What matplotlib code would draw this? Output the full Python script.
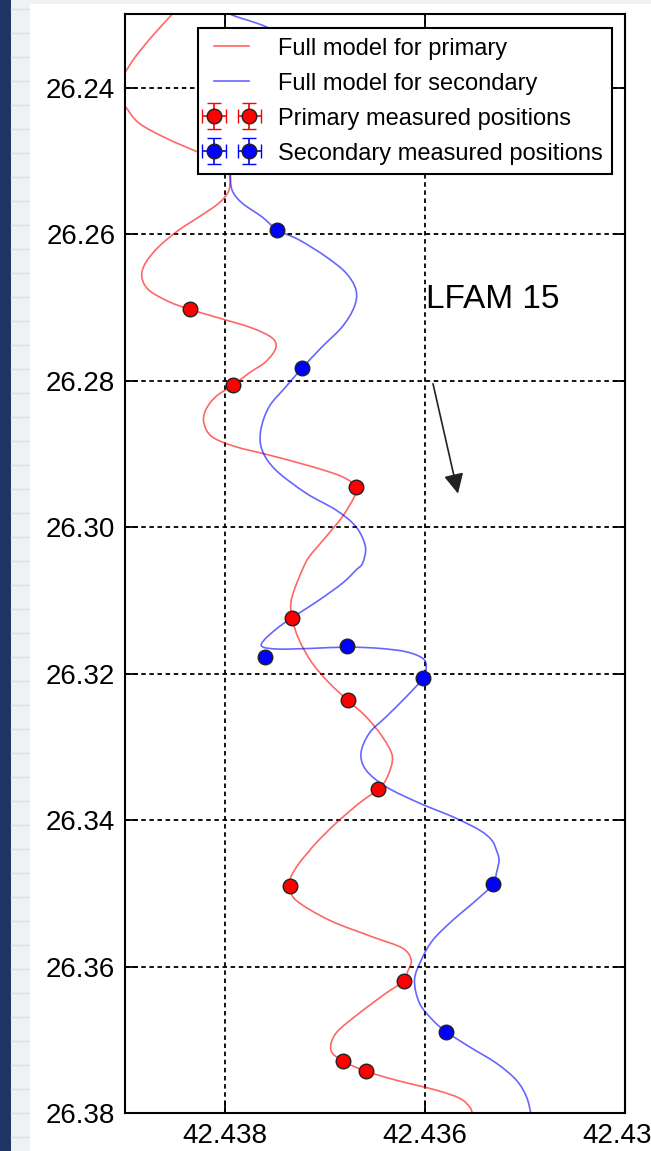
import numpy as np
import matplotlib
matplotlib.use("Agg")
import matplotlib.pyplot as plt
from matplotlib.patches import Rectangle, PathPatch
from matplotlib.lines import Line2D
from matplotlib.path import Path
from matplotlib.container import ErrorbarContainer
from matplotlib.legend_handler import HandlerErrorbar

plt.rcParams["font.family"] = ["Liberation Sans", "DejaVu Sans"]

# Full model tracks (RA, Dec in degrees)
model_primary_ra = [
    42.438461, 42.438544, 42.438732, 42.438895, 42.438995, 42.439063, 42.439093,
    42.439063, 42.438995, 42.438862, 42.438594, 42.438281, 42.438040, 42.437960,
    42.437960, 42.438060, 42.438261, 42.438461, 42.438662, 42.438795, 42.438832,
    42.438762, 42.438561, 42.438354, 42.438060, 42.437729, 42.437529, 42.437492,
    42.437592, 42.437759, 42.437917, 42.438093, 42.438193, 42.438211, 42.438130,
    42.437893, 42.437559, 42.437128, 42.436827, 42.436690, 42.436707, 42.436827,
    42.436990, 42.437158, 42.437228, 42.437308, 42.437341, 42.437331, 42.437258,
    42.437128, 42.436957, 42.436774, 42.436589, 42.436426, 42.436326, 42.436376,
    42.436466, 42.436657, 42.436890, 42.437091, 42.437158, 42.437258, 42.437341,
    42.437348, 42.437291, 42.436957, 42.436526, 42.436226, 42.436138, 42.436175,
    42.436213, 42.436389, 42.436657, 42.436890, 42.436940, 42.436824, 42.436589,
    42.436289, 42.435888, 42.435654, 42.435554, 42.435527, 42.435514,
]
model_primary_dec = [
    26.22880, 26.23016, 26.23299, 26.23572, 26.23777, 26.23891, 26.24014,
    26.24137, 26.24255, 26.24478, 26.24683, 26.24870, 26.25011, 26.25161,
    26.25393, 26.25571, 26.25762, 26.25940, 26.26168, 26.26391, 26.26578,
    26.26760, 26.26919, 26.27023, 26.27142, 26.27279, 26.27415, 26.27552,
    26.27739, 26.27893, 26.28057, 26.28217, 26.28399, 26.28576, 26.28764,
    26.28900, 26.29014, 26.29173, 26.29310, 26.29447, 26.29583, 26.29857,
    26.30130, 26.30403, 26.30585, 26.30858, 26.31035, 26.31244, 26.31541,
    26.31855, 26.32128, 26.32361, 26.32589, 26.32862, 26.33135, 26.33408,
    26.33576, 26.33768, 26.34041, 26.34314, 26.34423, 26.34587, 26.34774,
    26.34901, 26.35093, 26.35366, 26.35594, 26.35748, 26.35912, 26.36072,
    26.36199, 26.36363, 26.36636, 26.36910, 26.37142, 26.37288, 26.37429,
    26.37552, 26.37688, 26.37798, 26.37917, 26.38003, 26.38098,
]

model_secondary_ra = [
    42.438010, 42.437930, 42.437592, 42.437258, 42.437058, 42.437258, 42.437709,
    42.437910, 42.437943, 42.437930, 42.437830, 42.437629, 42.437476, 42.437258,
    42.436990, 42.436790, 42.436690, 42.436707, 42.436827, 42.437028, 42.437231,
    42.437391, 42.437559, 42.437642, 42.437629, 42.437492, 42.437191, 42.436890,
    42.436690, 42.436596, 42.436624, 42.436690, 42.436824, 42.437058, 42.437258,
    42.437459, 42.437609, 42.437626, 42.437459, 42.437128, 42.436780, 42.436456,
    42.436188, 42.436022, 42.435988, 42.436022, 42.436188, 42.436389, 42.436556,
    42.436640, 42.436589, 42.436389, 42.436055, 42.435721, 42.435454, 42.435333,
    42.435286, 42.435260, 42.435286, 42.435320, 42.435487, 42.435721, 42.435922,
    42.436038, 42.436105, 42.436055, 42.435922, 42.435787, 42.435554, 42.435286,
    42.435086, 42.434985, 42.434942, 42.434932,
]
model_secondary_dec = [
    26.22907, 26.23003, 26.23163, 26.23413, 26.23891, 26.24437, 26.24847,
    26.25025, 26.25161, 26.25393, 26.25571, 26.25762, 26.25940, 26.26076,
    26.26305, 26.26527, 26.26760, 26.26988, 26.27261, 26.27534, 26.27829,
    26.28081, 26.28354, 26.28672, 26.28945, 26.29219, 26.29533, 26.29765,
    26.29993, 26.30266, 26.30489, 26.30585, 26.30762, 26.30994, 26.31172,
    26.31359, 26.31541, 26.31632, 26.31664, 26.31654, 26.31637, 26.31654,
    26.31701, 26.31791, 26.31906, 26.32064, 26.32316, 26.32589, 26.32811,
    26.33085, 26.33317, 26.33545, 26.33768, 26.33955, 26.34137, 26.34273,
    26.34410, 26.34546, 26.34724, 26.34878, 26.35093, 26.35366, 26.35639,
    26.35912, 26.36186, 26.36500, 26.36732, 26.36892, 26.37097, 26.37320,
    26.37552, 26.37780, 26.38003, 26.38098,
]

# Measured positions
primary_ra = [42.438354, 42.437917, 42.436690, 42.437331, 42.436774,
              42.436466, 42.437348, 42.436213, 42.436824, 42.436589]
primary_dec = [26.27023, 26.28057, 26.29447, 26.31244, 26.32361,
               26.33576, 26.34901, 26.36199, 26.37288, 26.37429]
secondary_ra = [42.437476, 42.437231, 42.437599, 42.436780,
                42.436022, 42.435320, 42.435787]
secondary_dec = [26.25940, 26.27829, 26.31777, 26.31623,
                 26.32064, 26.34878, 26.36892]
ra_err = 2e-6
dec_err = 2e-5

x_ticks = [42.438, 42.436, 42.434]
y_ticks = [26.24, 26.26, 26.28, 26.30, 26.32, 26.34, 26.36, 26.38]


def smooth_path(xs, ys):
    """Bezier path through the read points (Catmull-Rom tangents)."""
    p = np.column_stack([xs, ys])
    p_ext = np.vstack([p[0], p, p[-1]])
    verts = [p[0]]
    codes = [Path.MOVETO]
    for i in range(len(p) - 1):
        p0, p1, p2, p3 = p_ext[i], p_ext[i + 1], p_ext[i + 2], p_ext[i + 3]
        verts += [p1 + (p2 - p0) / 6, p2 - (p3 - p1) / 6, p2]
        codes += [Path.CURVE4] * 3
    return Path(verts, codes)


fig = plt.figure(figsize=(6.51, 11.51), dpi=100, facecolor="#eef2f5")
# screenshot surroundings: desktop strip and page
fig.add_artist(Rectangle((0, 0), 11 / 651, 1, transform=fig.transFigure,
                         facecolor="#1f3563", edgecolor="none", zorder=-3))
for yy in np.arange(0.012, 1.0, 24 / 1151):
    fig.add_artist(Line2D([11 / 651, 30 / 651], [yy, yy], transform=fig.transFigure,
                          color="#cfe3ef", lw=1, zorder=-2))
fig.add_artist(Rectangle((30 / 651, 0), 1, 1 - 4 / 1151, transform=fig.transFigure,
                         facecolor="white", edgecolor="none", zorder=-1))

ax = fig.add_axes([125 / 651, 1 - 1113 / 1151, 500 / 651, 1099 / 1151])
ax.set_axisbelow(True)

ax.add_patch(PathPatch(smooth_path(model_primary_ra, model_primary_dec),
                       facecolor="none", edgecolor="r", alpha=0.6, lw=1.2, zorder=2))
ax.add_patch(PathPatch(smooth_path(model_secondary_ra, model_secondary_dec),
                       facecolor="none", edgecolor="b", alpha=0.6, lw=1.2, zorder=2))
l1 = Line2D([], [], color="r", alpha=0.6, lw=1.2, label="Full model for primary")
l2 = Line2D([], [], color="b", alpha=0.6, lw=1.2, label="Full model for secondary")

e1 = ax.errorbar(primary_ra, primary_dec, xerr=ra_err, yerr=dec_err, fmt="o",
                 color="r", mec="#222222", mew=1, ms=10.5, capsize=5, elinewidth=1.2,
                 zorder=5, label="Primary measured positions")
e2 = ax.errorbar(secondary_ra, secondary_dec, xerr=ra_err, yerr=dec_err, fmt="o",
                 color="b", mec="#222222", mew=1, ms=10.5, capsize=5, elinewidth=1.2,
                 zorder=5, label="Secondary measured positions")

ax.text(42.43599, 26.2701, "LFAM 15", fontsize=24, ha="left", va="baseline")
ax.annotate("", xy=(42.43567, 26.2954), xytext=(42.43592, 26.2804),
            arrowprops=dict(arrowstyle="-|>", color="#222222", lw=1.2,
                            mutation_scale=30, shrinkA=0, shrinkB=0))

ax.set_xlim(42.439, 42.434)
ax.set_ylim(26.38, 26.2299)
ax.set_xticks(x_ticks)
ax.set_yticks(y_ticks)
ax.xaxis.set_major_formatter(matplotlib.ticker.FormatStrFormatter("%.3f"))
ax.yaxis.set_major_formatter(matplotlib.ticker.FormatStrFormatter("%.2f"))
ax.tick_params(direction="in", length=9, width=1.3, top=True, right=True,
               labelsize=20, pad=7)
for sp in ax.spines.values():
    sp.set_linewidth(1.5)
ax.grid(True, color="k", linestyle=(0, (2.5, 2)), linewidth=1.3)

leg = ax.legend(handles=[l1, l2, e1, e2], loc="upper right",
                bbox_to_anchor=(0.974, 0.987), borderaxespad=0, numpoints=2,
                fontsize=17, fancybox=False, framealpha=1, borderpad=0.4,
                handlelength=2.1, handletextpad=0.9, labelspacing=0.55,
                handler_map={ErrorbarContainer: HandlerErrorbar(xerr_size=0.5,
                                                                yerr_size=0.55)})
leg.get_frame().set_edgecolor("k")
leg.get_frame().set_linewidth(1.5)
leg.set_zorder(10)

fig.savefig("out.png", dpi=100, facecolor=fig.get_facecolor())
